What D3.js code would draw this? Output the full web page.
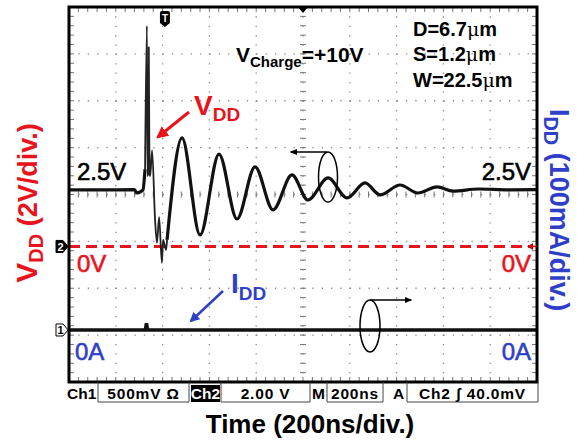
<!DOCTYPE html>
<html><head><meta charset="utf-8">
<script src="https://cdn.jsdelivr.net/npm/d3@7"></script>
<style>body{margin:0;background:#fff}svg{display:block}</style>
</head><body>
<script>
// ---- data ----
const vddTime = [0,130,280,290,308,316,325,333,335,338,341,344,347,355,368,376,385,397,402,415,419,483,560,641,718,795,872,953,1021,1107,1188,1265,1329,1415,1491,1573,1641,1750,1880,2000];
const vddVolt = [2.41,2.41,2.42,2.28,2.35,2.41,3.3,9.4,3.0,3.1,8.5,3.2,3.0,4.1,1.1,0.15,1.25,-0.7,0.28,-0.15,0.28,4.63,0.49,3.94,1.17,3.39,1.56,3.05,1.98,2.92,2.07,2.71,2.20,2.62,2.28,2.54,2.36,2.45,2.41,2.42];
const iddTime = [0,300,326,331,336,340,2000];
const iddCurrent = [0,0,0,14,0,0,0];
const timeDivs = [0,1,2,3,4,5,6,7,8,9,10];
const vertDivs = [0,1,2,3,4,5,6,7,8];
const statusBoxes = ["500mV \u03A9","2.00 V","200ns","Ch2 \u0283  40.0mV"];
const statusLabels = ["Ch1","Ch2","M","A"];

const W = 577, H = 444;
const L = 69, R = 537, T = 7, B = 382;
const svg = d3.select("body").append("svg").attr("width",W).attr("height",H)
  .style("font-family","'Liberation Sans', Arial, sans-serif");

const x = d3.scaleLinear().domain([0,2000]).range([L,R]);
const xDiv = d3.scaleLinear().domain([0,10]).range([L,R]);
const yDiv = d3.scaleLinear().domain([0,8]).range([B,T]);
const yV = d3.scaleLinear().domain([-5.78,10.21]).range([B,T]);
const yI = d3.scaleLinear().domain([-111,689]).range([B,T]);

// ---- graticule ----
const g = svg.append("g");
const dotDash = "1.3,8.06";
g.selectAll("line.vg").data(timeDivs.slice(1,-1)).join("line")
  .attr("x1",d=>xDiv(d)).attr("x2",d=>xDiv(d)).attr("y1",T).attr("y2",B)
  .attr("stroke","#8a8a8a").attr("stroke-width",1.3).attr("stroke-dasharray",dotDash);
g.selectAll("line.hg").data(vertDivs.slice(1,-1)).join("line")
  .attr("y1",d=>yDiv(d)).attr("y2",d=>yDiv(d)).attr("x1",L).attr("x2",R)
  .attr("stroke","#8a8a8a").attr("stroke-width",1.3).attr("stroke-dasharray",dotDash);
const minorX = d3.range(0,10.001,0.2), minorY = d3.range(0,8.001,0.2);
const tk = svg.append("g").attr("stroke","#777").attr("stroke-width",1);
minorX.forEach(d=>{
  const xx = xDiv(d);
  tk.append("line").attr("x1",xx).attr("x2",xx).attr("y1",T).attr("y2",T+5);
  tk.append("line").attr("x1",xx).attr("x2",xx).attr("y1",B-5).attr("y2",B);
  tk.append("line").attr("x1",xx).attr("x2",xx).attr("y1",yDiv(4)-3).attr("y2",yDiv(4)+3);
});
minorY.forEach(d=>{
  const yy = yDiv(d);
  tk.append("line").attr("y1",yy).attr("y2",yy).attr("x1",L).attr("x2",L+5);
  tk.append("line").attr("y1",yy).attr("y2",yy).attr("x1",R-5).attr("x2",R);
  tk.append("line").attr("y1",yy).attr("y2",yy).attr("x1",xDiv(5)-3).attr("x2",xDiv(5)+3);
});

// ---- 0V dashed line ----
svg.append("line").attr("x1",L).attr("x2",R-8).attr("y1",yV(0)).attr("y2",yV(0))
  .attr("stroke","#e8141c").attr("stroke-width",3).attr("stroke-dasharray","11,6");

// ---- traces ----
const vLine = d3.line().x(i=>x(vddTime[i])).y(i=>yV(vddVolt[i])).curve(d3.curveMonotoneX);
const idx = d3.range(vddTime.length);
const seg1 = idx.filter(i=>vddTime[i]<=325), seg2 = idx.filter(i=>vddTime[i]>=325 && vddTime[i]<=419), seg3 = idx.filter(i=>vddTime[i]>=419);
svg.append("path").attr("d",vLine(seg1)).attr("fill","none").attr("stroke","#111").attr("stroke-width",3.2);
svg.append("path").attr("d",vLine(seg2)).attr("fill","none").attr("stroke","#222").attr("stroke-width",1.8).attr("stroke-linejoin","round");
svg.append("path").attr("d",vLine(seg3)).attr("fill","none").attr("stroke","#111").attr("stroke-width",3.2).attr("stroke-linejoin","round");
const iLine = d3.line().x((d,i)=>x(iddTime[i])).y((d,i)=>yI(iddCurrent[i]));
svg.append("path").attr("d",iLine(iddCurrent)).attr("fill","none")
  .attr("stroke","#111").attr("stroke-width",3.5);

// ---- frame ----
svg.append("rect").attr("x",L).attr("y",T).attr("width",R-L).attr("height",B-T)
  .attr("fill","none").attr("stroke","#000").attr("stroke-width",3);

svg.append("path").attr("d",`M${xDiv(5)-5},${T}L${xDiv(5)+5},${T}L${xDiv(5)},${T+6}Z`).attr("fill","#000");
const tx = x(410);
svg.append("path").attr("d",`M${tx-5},${13}Q${tx-5},${11} ${tx-3},${11}L${tx+3},${11}Q${tx+5},${11} ${tx+5},${13}L${tx+5},${23}L${tx},${27}L${tx-5},${23}Z`).attr("fill","#000");
svg.append("text").attr("x",tx).attr("y",22).attr("text-anchor","middle").attr("fill","#fff")
  .attr("font-size",10).attr("font-weight","bold").text("T");
svg.append("path").attr("d",`M${R-10},${yV(0)}L${R-4},${yV(0)-3.5}L${R-4},${yV(0)+3.5}Z`).attr("fill","#c00");
svg.append("line").attr("x1",R-5).attr("x2",R).attr("y1",yV(0)).attr("y2",yV(0)).attr("stroke","#c00").attr("stroke-width",1.5);

function chMarker(yy, label, filled){
  svg.append("path").attr("d",`M56,${yy-6}L63,${yy-6}L68,${yy}L63,${yy+6}L56,${yy+6}Z`)
    .attr("fill",filled?"#000":"#fff").attr("stroke","#000").attr("stroke-width",1);
  svg.append("text").attr("x",60.5).attr("y",yy+4.5).attr("text-anchor","middle")
    .attr("font-size",11).attr("font-weight","bold").attr("fill",filled?"#fff":"#000").text(label);
}
chMarker(yV(0),"2",true);
chMarker(yI(0),"1",false);

// ---- level labels ----
function lab(xx,yy,txt,col,anchor){
  svg.append("text").attr("x",xx).attr("y",yy).attr("fill",col).attr("font-size",24)
    .attr("stroke",col).attr("stroke-width",0.6)
    .attr("text-anchor",anchor||"start").text(txt);
}
lab(77,180,"2.5V","#000"); lab(531,180,"2.5V","#000","end");
lab(77,272,"0V","#e8141c"); lab(531,272,"0V","#e8141c","end");
lab(75,360,"0A","#2f3fc8"); lab(531,360,"0A","#2f3fc8","end");

// ---- annotation texts ----
const vc = svg.append("text").attr("x",236).attr("y",62).attr("font-weight","bold").attr("fill","#000");
vc.append("tspan").attr("font-size",21).text("V");
vc.append("tspan").attr("font-size",15).attr("dy",5).text("Charge");
vc.append("tspan").attr("font-size",21).attr("dy",-5).text("=+10V");
[["D=6.7","μm",36],["S=1.2","μm",61],["W=22.5","μm",87]].forEach(([a,b,yy])=>{
  const t = svg.append("text").attr("x",413).attr("y",yy).attr("font-size",20).attr("font-weight","bold").attr("fill","#000");
  t.append("tspan").text(a);
  t.append("tspan").attr("font-weight","normal").attr("font-family","'DejaVu Serif', serif").attr("font-size",19).text(b.charAt(0));
  t.append("tspan").text(b.charAt(1));
});

const vdd = svg.append("text").attr("x",194).attr("y",115).attr("fill","#e8141c").attr("font-weight","bold");
vdd.append("tspan").attr("font-size",28).text("V");
vdd.append("tspan").attr("font-size",19).attr("dy",6).text("DD");
svg.append("defs").html(`
<marker id="ar" viewBox="0 0 10 10" refX="8" refY="5" markerWidth="4" markerHeight="4" orient="auto"><path d="M0,0L10,5L0,10Z" fill="#e8141c"/></marker>
<marker id="ab" viewBox="0 0 10 10" refX="8" refY="5" markerWidth="4" markerHeight="4" orient="auto"><path d="M0,0L10,5L0,10Z" fill="#2f3fc8"/></marker>
<marker id="ak" viewBox="0 0 10 10" refX="8" refY="5" markerWidth="5" markerHeight="5" orient="auto"><path d="M0,1L10,5L0,9Z" fill="#000"/></marker>`);
svg.append("line").attr("x1",189).attr("y1",112).attr("x2",158).attr("y2",137)
  .attr("stroke","#e8141c").attr("stroke-width",3).attr("marker-end","url(#ar)");

const idd = svg.append("text").attr("x",231).attr("y",293).attr("fill","#2f3fc8").attr("font-weight","bold");
idd.append("tspan").attr("font-size",28).text("I");
idd.append("tspan").attr("font-size",19).attr("dy",7).text("DD");
svg.append("line").attr("x1",223).attr("y1",291).attr("x2",191).attr("y2",321)
  .attr("stroke","#2f3fc8").attr("stroke-width",2.5).attr("marker-end","url(#ab)");

svg.append("ellipse").attr("cx",328).attr("cy",177).attr("rx",9.5).attr("ry",25)
  .attr("fill","none").attr("stroke","#000").attr("stroke-width",1.5);
svg.append("line").attr("x1",327).attr("y1",152).attr("x2",291).attr("y2",152)
  .attr("stroke","#000").attr("stroke-width",1.5).attr("marker-end","url(#ak)");
svg.append("ellipse").attr("cx",370).attr("cy",326).attr("rx",10).attr("ry",26)
  .attr("fill","none").attr("stroke","#000").attr("stroke-width",1.5);
svg.append("line").attr("x1",370).attr("y1",300).attr("x2",411).attr("y2",300)
  .attr("stroke","#000").attr("stroke-width",1.5).attr("marker-end","url(#ak)");

// ---- axis titles ----
const lt = svg.append("text").attr("transform","translate(37,203) rotate(-90)").attr("text-anchor","middle")
  .attr("fill","#e8141c").attr("font-weight","bold");
lt.append("tspan").attr("font-size",30).text("V");
lt.append("tspan").attr("font-size",20).attr("dy",6).text("DD");
lt.append("tspan").attr("font-size",27).attr("dy",-6).text(" (2V/div.)");
const rt = svg.append("text").attr("transform","translate(550,210) rotate(90)").attr("text-anchor","middle")
  .attr("fill","#2f3fc8").attr("font-weight","bold");
rt.append("tspan").attr("font-size",28).text("I");
rt.append("tspan").attr("font-size",20).attr("dy",6).text("DD");
rt.append("tspan").attr("font-size",27).attr("dy",-6).text(" (100mA/div.)");
svg.append("text").attr("x",310).attr("y",433).attr("text-anchor","middle").attr("font-size",26)
  .attr("font-weight","bold").attr("fill","#000").text("Time (200ns/div.)");

// ---- status bar ----
const sb = svg.append("g").attr("font-size",15.5).attr("font-weight","bold").attr("fill","#000");
const boxes = [[98,189],[221,310],[327,383],[407,538]];
boxes.forEach(([a,b],i)=>{
  sb.append("path").attr("d",`M${a},${B}L${a},${402}L${b},${402}L${b},${B}`).attr("fill","none").attr("stroke","#444").attr("stroke-width",1);
  sb.append("text").attr("x",(a+b)/2).attr("y",399).attr("text-anchor","middle").style("letter-spacing","0.8px").text(statusBoxes[i]);
});
sb.append("text").attr("x",67).attr("y",399).text(statusLabels[0]);
sb.append("rect").attr("x",191).attr("y",385).attr("width",29).attr("height",17).attr("fill","#000");
sb.append("text").attr("x",205.5).attr("y",399).attr("text-anchor","middle").attr("fill","#fff").text(statusLabels[1]);
sb.append("text").attr("x",312).attr("y",399).text(statusLabels[2]);
sb.append("text").attr("x",393).attr("y",399).text(statusLabels[3]);
</script>
</body></html>
